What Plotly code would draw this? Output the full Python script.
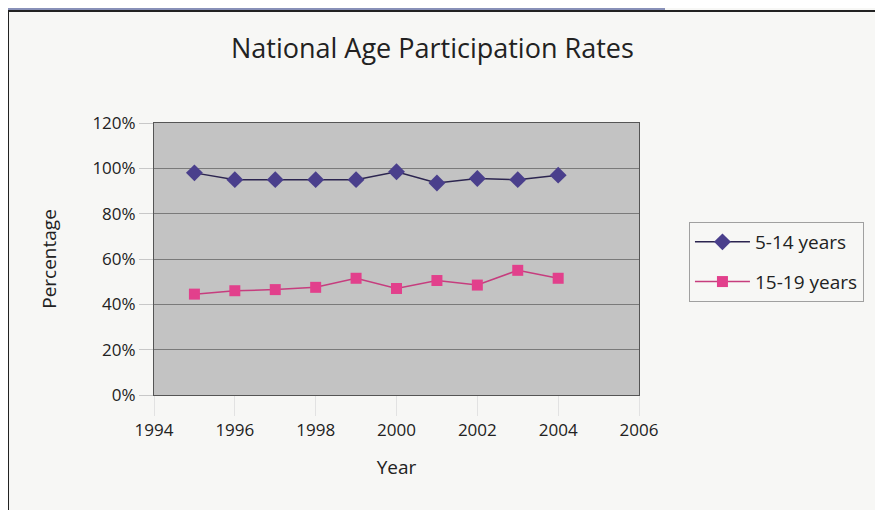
import plotly.graph_objects as go

years = [1995, 1996, 1997, 1998, 1999, 2000, 2001, 2002, 2003, 2004]
ages_5_14 = [98, 95, 95, 95, 95, 98.5, 93.5, 95.5, 95, 97]
ages_15_19 = [44.5, 46, 46.5, 47.5, 51.5, 47, 50.5, 48.5, 55, 51.5]
series_names = ["5-14 years", "15-19 years"]
x_ticks = [1994, 1996, 1998, 2000, 2002, 2004, 2006]
y_ticks = [0, 20, 40, 60, 80, 100, 120]
y_tick_labels = [f"{v}%" for v in y_ticks]

FONT = "Open Sans"

fig = go.Figure()
fig.add_trace(go.Scatter(
    x=years, y=ages_5_14, name=series_names[0], mode="lines+markers",
    legendgroup="a",
    line=dict(color="#2c2550", width=1.5),
    marker=dict(symbol="diamond", size=13, color="#4a3f8c"),
))
fig.add_trace(go.Scatter(
    x=years, y=ages_15_19, name=series_names[1], mode="lines+markers",
    legendgroup="b",
    line=dict(color="#c63d7e", width=1.5),
    marker=dict(symbol="square", size=11, color="#e2408c"),
))

fig.update_layout(
    width=875, height=502,
    margin=dict(l=146, r=244, t=115, b=115),
    paper_bgcolor="#f7f7f5",
    plot_bgcolor="#c3c3c3",
    font=dict(family=FONT, size=17, color="#222222"),
    title=dict(text="National Age Participation Rates", x=0.485, xanchor="center",
               y=0.92, yanchor="middle", font=dict(family=FONT, size=27, color="#222222")),
    xaxis=dict(range=[1994, 2006], tickvals=x_ticks, showgrid=False, zeroline=False,
               ticks="outside", ticklen=20, tickcolor="#e2e2e2",
               title=dict(text="Year", font=dict(size=19), standoff=20),
               showline=True, linecolor="#555555", mirror=True),
    yaxis=dict(range=[0, 120], tickvals=y_ticks, ticktext=y_tick_labels,
               showgrid=True, gridcolor="#7a7a7a", gridwidth=1, zeroline=False,
               title=dict(text="Percentage", font=dict(size=19), standoff=30),
               showline=True, linecolor="#555555", mirror=True,
               ticks="outside", ticklen=14, tickcolor="#c8c8c8"),
    legend=dict(x=1.103, y=0.636, xanchor="left", yanchor="top",
                bgcolor="#f7f7f5", bordercolor="#a0a0a0", borderwidth=1,
                font=dict(size=19), tracegroupgap=12, itemwidth=55),
    showlegend=True,
)

# scanned page frame: top band and black border
fig.add_shape(type="rect", xref="paper", yref="paper",
              x0=-0.32, x1=1.0536, y0=1.4154, y1=1.43,
              fillcolor="#8890b8", line=dict(width=0), layer="below")
fig.add_shape(type="rect", xref="paper", yref="paper",
              x0=-0.301, x1=2.0, y0=-1.0, y1=1.4118,
              fillcolor="rgba(0,0,0,0)", line=dict(color="#222222", width=2))

fig.write_html("out.html")
